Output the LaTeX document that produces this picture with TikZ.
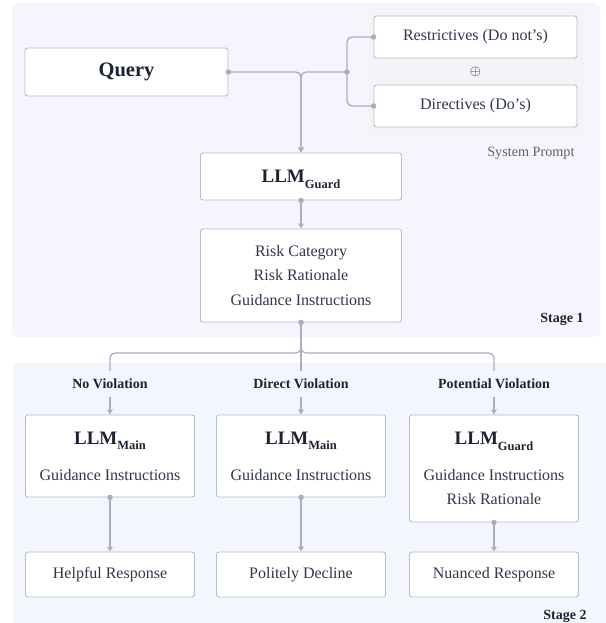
\documentclass[tikz,border=0pt]{standalone}
\usepackage{fontspec}
\setmainfont{Liberation Serif}
\usepackage{tikz}
\usetikzlibrary{arrows.meta}
\definecolor{ink}{HTML}{2E384C}
\definecolor{darkink}{HTML}{1C2333}
\definecolor{softink}{HTML}{5A6478}
\definecolor{wirecol}{HTML}{A9AFBB}
\definecolor{edgecol}{HTML}{B7BCC6}
\definecolor{stageone}{HTML}{F6F4FC}
\definecolor{stagetwo}{HTML}{F3F6FD}
\definecolor{syspanel}{HTML}{F3F4F7}
\newcommand{\llm}[2][12.5]{\textbf{LLM}\raisebox{-0.3em}{\fontsize{#1}{#1}\selectfont\textbf{#2}}}

\begin{document}
\begin{tikzpicture}[x=1pt,y=-1pt,
                        box/.style={draw=edgecol,line width=0.9pt,fill=white,rounded corners=2.5pt,text=ink,
                                    align=center,inner sep=0pt,font=\fontsize{16}{24.5}\selectfont},
                        wire/.style={draw=wirecol,line width=1.3pt,rounded corners=5pt},
                        arr/.style={wire,-{Triangle[length=5pt,width=5.5pt]}},
                        dot/.style={fill=wirecol,circle,inner sep=0pt,minimum size=5.5pt},
                        tag/.style={text=darkink,inner sep=8pt,font=\fontsize{14}{14}\selectfont\bfseries}]
                        \useasboundingbox (0,0) rectangle (605,623);
                        \fill[stageone,rounded corners=6pt] (12,3) rectangle (600,337);
                        \fill[syspanel,rounded corners=4pt] (366,6) rectangle (586,134);
                        \fill[stagetwo,rounded corners=6pt] (13,363) rectangle (611,629);

                        \node[box,minimum width=203pt,minimum height=48pt,font=\fontsize{20.5}{20.5}\selectfont\bfseries,text=darkink] (1) at (126.5,72) {Query};
                        \node[box,minimum width=203pt,minimum height=42pt] (2) at (475.5,37) {Restrictives (Do not's)};
                        \node[box,minimum width=203pt,minimum height=42pt] (3) at (475.5,106) {Directives (Do's)};
                        \node[text=darkink,font=\fontsize{14}{14}\selectfont] (plus) at (475.5,72) {$\oplus$};
                        \node[text=softink,anchor=east,font=\fontsize{14.2}{14.2}\selectfont] (sys) at (578,153) {System Prompt};
                        \node[box,minimum width=201pt,minimum height=47pt,text depth=0pt,font=\fontsize{19}{19}\selectfont,text=darkink] (4) at (301,176.5) {\llm{Guard}};
                        \node[box,minimum width=201pt,minimum height=93pt] (5) at (301,275.5) {Risk Category\\Risk Rationale\\Guidance Instructions};
                        \node[tag] (s1) at (562,319) {Stage 1};

                        \node[tag] (6) at (110,384) {No Violation};
                        \node[tag] (7) at (301,384) {Direct Violation};
                        \node[tag] (8) at (494,384) {Potential Violation};
                        \node[box,minimum width=169pt,minimum height=82pt] (9) at (110,456) {{\fontsize{19}{19}\selectfont\color{darkink}\llm{Main}}\\[11.5pt]Guidance Instructions};
                        \node[box,minimum width=169pt,minimum height=82pt] (10) at (301,456) {{\fontsize{19}{19}\selectfont\color{darkink}\llm{Main}}\\[11.5pt]Guidance Instructions};
                        \node[box,minimum width=169pt,minimum height=107pt] (11) at (494,468.5) {{\fontsize{19}{19}\selectfont\color{darkink}\llm{Guard}}\\[11.5pt]Guidance Instructions\\Risk Rationale};
                        \node[box,minimum width=169pt,minimum height=45pt] (12) at (110,574.5) {Helpful Response};
                        \node[box,minimum width=169pt,minimum height=45pt] (13) at (301,574.5) {Politely Decline};
                        \node[box,minimum width=169pt,minimum height=45pt] (14) at (494,574.5) {Nuanced Response};
                        \node[tag] (s2) at (565,616) {Stage 2};

                        \coordinate (join) at (347,72);
                        \coordinate (fork) at (301,353);
                        \draw[arr] (1.east) -| (4.north);
                        \draw[arr] (join) -| (4.north);
                        \draw[wire] (join) |- (2.west);
                        \draw[wire] (join) |- (3.west);
                        \draw[arr] (4.south) -- (5.north);
                        \draw[wire] (5.south) -- (fork) -| (6.north);
                        \draw[wire] (5.south) -- (fork) -| (8.north);
                        \draw[wire] (5.south) -- (7.north);
                        \draw[arr] (6.south) -- (9.north);
                        \draw[arr] (7.south) -- (10.north);
                        \draw[arr] (8.south) -- (11.north);
                        \draw[arr] (9.south) -- (12.north);
                        \draw[arr] (10.south) -- (13.north);
                        \draw[arr] (11.south) -- (14.north);
                        \foreach \p in {1.east,join,2.west,3.west,4.south,5.south,9.south,10.south,11.south}
                          \node[dot] at (\p) {};
                  \end{tikzpicture}
\end{document}
